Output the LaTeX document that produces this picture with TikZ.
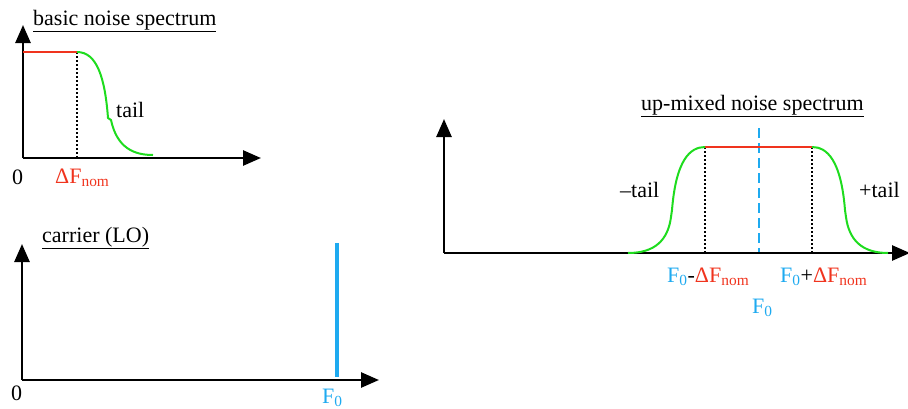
\documentclass[tikz,border=0pt]{standalone}
\usepackage{fontspec}
\setmainfont{Liberation Serif}
\usetikzlibrary{arrows.meta}
\definecolor{nred}{RGB}{240,52,30}
\definecolor{ngreen}{RGB}{30,220,30}
\definecolor{nblue}{RGB}{30,170,240}
\tikzset{
  axis/.style={line width=2.6pt,-{Triangle[length=18pt,width=15pt]}},
  plateau/.style={nred,line width=2pt},
  tailcurve/.style={ngreen,line width=2pt},
  marker/.style={black,line width=1.3pt,dash pattern=on 2pt off 2pt},
  centre/.style={nblue,line width=1.7pt,dash pattern=on 10pt off 5pt},
  lbl/.style={inner sep=0pt,font=\fontsize{22}{26}\selectfont},
}
\newcommand{\sbs}[1]{\textsubscript{#1}}
\begin{document}
\begin{tikzpicture}[x=1pt,y=-1pt]
\useasboundingbox (0,0) rectangle (908,408);
% ---- basic noise spectrum
\coordinate (o1) at (23,158);
\coordinate (y1) at (23,25);
\coordinate (x1) at (261,158);
\coordinate (p1a) at (23,52);
\coordinate (p1b) at (77,52);
\coordinate (d1) at (77,158);
\coordinate (k1a) at (108,118);
\coordinate (k1b) at (111,120);
\coordinate (e1) at (153,155);
\draw[marker] (p1b) -- (d1);
\draw[axis] (o1) -- (y1);
\draw[axis] (o1) -- (x1);
\draw[plateau] (p1a) -- (p1b);
\draw[tailcurve] (p1b) .. controls (97,52) and (105,78) .. (k1a) -- (k1b) .. controls (117,148) and (134,155) .. (e1);
\node[lbl,anchor=base west] (t1) at (33,25) {\underline{basic noise spectrum}};
\node[lbl,anchor=base west] (z1) at (12,184) {0};
\node[lbl,anchor=base west,text=nred] (df1) at (55,183) {ΔF\sbs{nom}};
\node[lbl,anchor=base west] (tail1) at (116,117) {tail};
% ---- carrier
\coordinate (o2) at (22,380);
\coordinate (y2) at (22,244);
\coordinate (x2) at (379,380);
\coordinate (c2a) at (337,243);
\coordinate (c2b) at (337,377);
\draw[axis] (o2) -- (y2);
\draw[axis] (o2) -- (x2);
\draw[nblue,line width=4pt] (c2a) -- (c2b);
\node[lbl,anchor=base west] (t2) at (42,242) {\underline{carrier (LO)}};
\node[lbl,anchor=base west] (z2) at (11,400) {0};
\node[lbl,anchor=base west,text=nblue] (f2) at (322,403) {F\sbs{0}};
% ---- up-mixed noise spectrum
\coordinate (o3) at (444,253);
\coordinate (y3) at (444,119);
\coordinate (x3) at (910,253);
\coordinate (s3) at (628,253);
\coordinate (ka) at (671,217);
\coordinate (kb) at (672,210);
\coordinate (pa) at (705,147);
\coordinate (pb) at (812,147);
\coordinate (kc) at (845,210);
\coordinate (kd) at (846,217);
\coordinate (e3) at (888,253);
\coordinate (da) at (705,253);
\coordinate (db) at (812,253);
\coordinate (ca) at (759,128);
\coordinate (cb) at (759,253);
\draw[centre] (ca) -- (cb);
\draw[marker] (pa) -- (da);
\draw[marker] (pb) -- (db);
\draw[axis] (o3) -- (y3);
\draw[axis] (o3) -- (x3);
\draw[plateau] (pa) -- (pb);
\draw[tailcurve] (s3) .. controls (655,253) and (668,240) .. (ka) -- (kb) .. controls (676,160) and (690,147) .. (pa);
\draw[tailcurve] (pb) .. controls (827,147) and (841,160) .. (kc) -- (kd) .. controls (849,240) and (862,253) .. (e3);
\node[lbl,anchor=base west] (t3) at (641,110) {\underline{up-mixed noise spectrum}};
\node[lbl,anchor=base west] (mt) at (620,197) {–tail};
\node[lbl,anchor=base west] (pt) at (859,197) {+tail};
\node[lbl,anchor=base west] (fm) at (667,282) {\textcolor{nblue}{F\sbs{0}}-\textcolor{nred}{ΔF\sbs{nom}}};
\node[lbl,anchor=base west] (fp) at (780,282) {\textcolor{nblue}{F\sbs{0}}+\textcolor{nred}{ΔF\sbs{nom}}};
\node[lbl,anchor=base west,text=nblue] (f3) at (752,313) {F\sbs{0}};
\end{tikzpicture}
\end{document}
